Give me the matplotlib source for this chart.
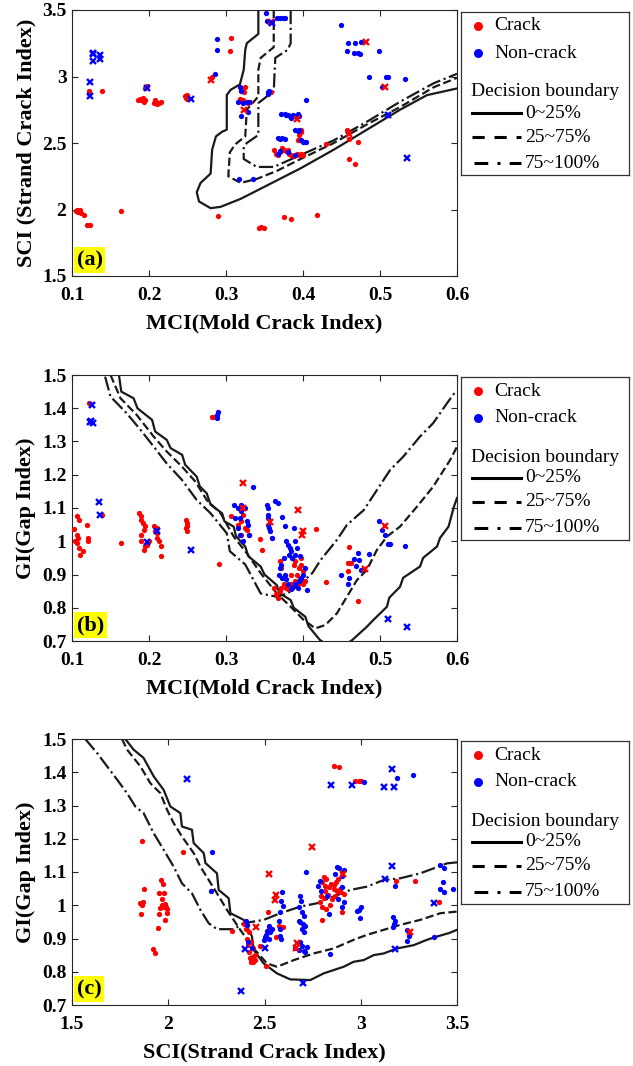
import numpy as np
import matplotlib
matplotlib.use('Agg')
import matplotlib.pyplot as plt
from matplotlib.lines import Line2D

plt.rcParams['font.family'] = ['Liberation Serif', 'DejaVu Serif']

# ---------------- panel (a): MCI vs SCI ----------------
a_crack = [(0.105,1.99),(0.108,1.98),(0.110,2.00),(0.112,1.97),(0.107,1.995),(0.109,1.99),(0.115,1.96),
           (0.120,1.88),(0.123,1.88),(0.163,1.99),(0.122,2.89),(0.122,2.87),(0.139,2.89),
           (0.186,2.82),(0.188,2.83),(0.190,2.82),(0.192,2.835),(0.193,2.81),(0.195,2.82),
           (0.195,2.91),(0.197,2.93),(0.207,2.80),(0.209,2.81),(0.211,2.79),(0.213,2.80),(0.215,2.81),(0.208,2.82),
           (0.247,2.85),(0.248,2.84),(0.250,2.86),(0.249,2.83),(0.282,3.00),(0.305,3.19),(0.307,3.29),(0.290,1.95),
           (0.320,2.91),(0.325,2.92),(0.323,2.88),(0.318,2.83),(0.322,2.82),(0.328,2.80),(0.331,2.81),
           (0.343,1.86),(0.346,1.865),(0.349,1.86),(0.375,1.94),(0.385,1.93),(0.418,1.96),(0.358,2.88),
           (0.362,2.45),(0.365,2.42),(0.368,2.41),(0.370,2.43),(0.373,2.46),(0.375,2.45),(0.378,2.44),(0.382,2.42),
           (0.385,2.41),(0.388,2.40),(0.392,2.42),(0.395,2.41),(0.398,2.42),(0.400,2.41),(0.380,2.45),
           (0.395,2.56),(0.398,2.60),(0.393,2.52),(0.397,2.58),(0.430,2.49),
           (0.457,2.60),(0.460,2.53),(0.471,2.51),(0.460,2.38),(0.468,2.34)]
a_crack_x = [(0.281,2.97),(0.323,2.75),(0.358,3.41),(0.392,2.68),(0.460,2.57),(0.482,3.26),(0.507,2.92)]
a_non = [(0.286,3.02),(0.288,3.28),(0.288,3.20),(0.318,2.92),(0.320,2.89),(0.315,2.81),(0.322,2.80),(0.327,2.81),
         (0.320,2.70),(0.328,2.73),(0.330,2.81),(0.317,2.23),(0.335,2.23),
         (0.352,3.48),(0.353,3.42),(0.366,3.44),(0.370,3.44),(0.374,3.44),(0.377,3.44),
         (0.354,2.88),(0.356,2.89),(0.355,2.87),
         (0.372,2.72),(0.376,2.72),(0.380,2.71),(0.383,2.70),(0.387,2.71),(0.390,2.70),(0.393,2.72),(0.395,2.70),
         (0.385,2.69),(0.378,2.71),(0.404,2.82),(0.390,2.60),(0.395,2.60),(0.393,2.59),
         (0.398,2.52),(0.400,2.51),(0.402,2.51),(0.404,2.51),(0.367,2.54),(0.370,2.53),(0.373,2.54),(0.376,2.53),
         (0.367,2.42),(0.370,2.44),(0.380,2.43),(0.390,2.41),
         (0.449,3.39),(0.458,3.25),(0.457,3.19),(0.468,3.25),(0.466,3.18),(0.472,3.18),(0.475,3.26),(0.474,3.17),
         (0.486,3.00),(0.499,3.19),(0.503,2.92),(0.508,3.00),(0.511,3.00),(0.532,2.98)]
a_non_x = [(0.127,3.18),(0.127,3.17),(0.127,3.12),(0.136,3.16),(0.137,3.13),(0.123,2.96),(0.123,2.85),
           (0.198,2.91),(0.254,2.83),(0.360,3.40),(0.510,2.71),(0.535,2.385)]

a_b25 = [(0.342,3.5),(0.342,3.32),(0.327,3.25),(0.325,3.2),(0.323,3.05),(0.318,2.94),(0.306,2.9),(0.301,2.86),
         (0.301,2.6),(0.295,2.585),(0.287,2.55),(0.282,2.45),(0.28,2.27),(0.267,2.2),(0.262,2.13),(0.265,2.06),
         (0.28,2.01),(0.293,2.02),(0.319,2.08),(0.353,2.18),(0.397,2.31),(0.44,2.45),(0.483,2.6),(0.526,2.75),
         (0.561,2.86),(0.6,2.91)]
a_b75 = [(0.362,3.5),(0.362,3.22),(0.345,3.14),(0.342,3.05),(0.342,2.85),(0.327,2.75),(0.325,2.55),(0.312,2.49),
         (0.305,2.43),(0.303,2.25),(0.319,2.2),(0.34,2.23),(0.366,2.29),(0.397,2.38),(0.44,2.5),(0.483,2.64),
         (0.526,2.77),(0.57,2.92),(0.6,2.99)]
a_b100 = [(0.384,3.5),(0.384,3.25),(0.38,3.2),(0.364,3.14),(0.362,2.89),(0.353,2.85),(0.342,2.8),(0.342,2.56),
          (0.327,2.5),(0.323,2.47),(0.323,2.38),(0.34,2.32),(0.362,2.32),(0.397,2.41),(0.44,2.52),(0.483,2.66),
          (0.526,2.81),(0.57,2.95),(0.6,3.02)]

# ---------------- panel (b): MCI vs GI ----------------
b_crack = [(0.103,1.037),(0.107,1.077),(0.109,1.064),(0.106,1.02),(0.104,1.0),(0.107,0.994),(0.109,0.98),(0.110,0.96),
           (0.114,0.972),(0.108,1.01),(0.119,1.05),(0.121,1.009),(0.121,1.0),(0.122,1.417),(0.125,1.413),
           (0.139,1.079),(0.163,0.994),
           (0.187,1.085),(0.189,1.075),(0.190,1.065),(0.192,1.055),(0.195,1.045),(0.193,1.035),(0.190,1.02),(0.190,1.0),
           (0.195,0.985),(0.193,0.975),(0.198,0.99),(0.200,1.0),
           (0.207,1.045),(0.210,1.04),(0.210,1.025),(0.211,1.01),(0.213,1.0),(0.215,0.985),(0.215,0.955),(0.208,1.03),
           (0.248,1.065),(0.250,1.055),(0.248,1.04),(0.250,1.03),(0.249,1.047),
           (0.291,0.932),(0.282,1.373),(0.285,1.375),
           (0.307,1.075),(0.315,1.05),(0.320,1.06),(0.322,1.08),(0.325,1.04),(0.327,1.035),(0.330,1.02),(0.320,1.02),
           (0.344,1.008),(0.347,0.975),(0.360,1.01),
           (0.365,0.84),(0.368,0.83),(0.370,0.85),(0.372,0.86),(0.375,0.87),(0.378,0.86),(0.380,0.855),(0.385,0.87),
           (0.390,0.88),(0.392,0.90),(0.395,0.92),(0.397,0.93),(0.398,0.95),(0.400,0.91),(0.402,0.88),(0.390,0.94),
           (0.388,0.93),(0.370,0.94),(0.372,0.92),(0.393,0.87),(0.396,0.89),(0.400,0.87),(0.362,0.86),(0.384,0.90),
           (0.417,1.037),(0.430,0.876),(0.460,0.982),(0.458,0.935),(0.462,0.936),(0.458,0.91),(0.471,0.819)]
b_crack_x = [(0.322,1.175),(0.322,1.10),(0.357,1.058),(0.393,1.094),(0.400,1.03),(0.399,1.02),(0.481,0.918),(0.507,1.045)]
b_non = [(0.288,1.38),(0.290,1.39),(0.288,1.37),
         (0.310,1.11),(0.315,1.10),(0.318,1.07),(0.312,1.07),(0.320,1.11),(0.320,1.09),(0.325,1.10),(0.327,1.06),
         (0.315,1.04),(0.318,1.02),(0.322,1.00),(0.328,1.05),(0.330,1.02),(0.335,1.163),
         (0.353,1.11),(0.354,1.10),(0.355,1.08),(0.355,1.07),(0.354,1.05),(0.356,1.04),(0.357,1.03),(0.360,1.01),
         (0.364,1.121),(0.368,1.114),(0.373,1.074),(0.376,1.046),
         (0.378,1.0),(0.380,0.99),(0.383,0.98),(0.385,0.97),(0.382,0.96),(0.386,0.95),(0.390,0.96),(0.392,0.98),
         (0.390,1.0),(0.388,1.04),(0.375,0.95),(0.372,0.93),(0.370,0.92),(0.376,0.90),(0.378,0.885),(0.380,0.87),
         (0.386,0.86),(0.390,0.87),(0.395,0.88),(0.398,0.89),(0.400,0.90),(0.402,0.92),(0.394,0.86),(0.384,0.855),
         (0.373,0.89),(0.369,0.90),(0.396,0.955),(0.405,0.853),
         (0.450,0.90),(0.458,0.87),(0.460,0.89),(0.466,0.947),(0.469,0.925),(0.472,0.966),(0.473,0.944),(0.475,0.914),
         (0.486,0.962),(0.499,1.061),(0.503,1.035),(0.507,1.02),(0.510,0.993),(0.513,0.993),(0.532,0.986)]
b_non_x = [(0.126,1.41),(0.123,1.36),(0.127,1.355),(0.125,1.362),(0.135,1.118),(0.137,1.08),(0.198,0.997),
           (0.210,1.03),(0.254,0.974),(0.510,0.765),(0.535,0.743)]

b_b25_left = [(0.161,1.5),(0.164,1.45),(0.18,1.43),(0.185,1.40),(0.204,1.365),(0.208,1.33),(0.223,1.305),(0.228,1.28),
              (0.243,1.26),(0.247,1.23),(0.262,1.194),(0.266,1.165),(0.275,1.144),(0.28,1.11),(0.295,1.084),
              (0.298,1.06),(0.31,1.044),(0.313,1.015),(0.325,0.984),(0.329,0.955),(0.345,0.924),(0.35,0.90),
              (0.366,0.868),(0.369,0.845),(0.384,0.823),(0.388,0.80),(0.403,0.773),(0.407,0.745),(0.422,0.703),
              (0.424,0.7)]
b_b25_right = [(0.462,0.7),(0.464,0.703),(0.483,0.743),(0.49,0.76),(0.509,0.803),(0.512,0.83),(0.526,0.863),
               (0.53,0.89),(0.552,0.924),(0.556,0.95),(0.574,0.984),(0.578,1.01),(0.589,1.044),(0.596,1.104),(0.6,1.13)]
b_b75 = [(0.15,1.5),(0.163,1.43),(0.184,1.38),(0.206,1.315),(0.223,1.27),(0.243,1.224),(0.26,1.18),(0.275,1.124),
         (0.293,1.084),(0.31,1.014),(0.327,0.964),(0.345,0.904),(0.366,0.843),(0.384,0.803),(0.401,0.763),
         (0.416,0.738),(0.429,0.748),(0.444,0.783),(0.457,0.833),(0.47,0.883),(0.483,0.914),(0.496,0.974),
         (0.509,1.014),(0.526,1.044),(0.548,1.104),(0.569,1.164),(0.591,1.244),(0.6,1.284)]
b_b100 = [(0.143,1.495),(0.15,1.435),(0.171,1.385),(0.189,1.335),(0.206,1.285),(0.223,1.234),(0.243,1.184),
          (0.262,1.124),(0.28,1.084),(0.301,1.024),(0.305,0.97),(0.325,0.93),(0.345,0.843),(0.366,0.833),
          (0.38,0.843),(0.397,0.873),(0.412,0.904),(0.423,0.944),(0.444,1.004),(0.457,1.049),(0.479,1.094),
          (0.496,1.154),(0.513,1.214),(0.53,1.254),(0.552,1.315),(0.569,1.355),(0.587,1.415),(0.598,1.45)]

# ---------------- panel (c): SCI vs GI ----------------
c_crack = [(1.864,1.194),(1.852,1.008),(1.858,1.005),(1.862,1.0),(1.869,1.011),(1.872,1.049),(1.86,0.974),
           (1.921,0.869),(1.933,0.855),(1.945,0.931),
           (1.964,1.076),(1.971,1.063),(1.950,1.036),(1.976,1.036),(1.968,1.018),(1.976,0.996),(1.959,0.991),
           (1.994,0.988),(1.994,0.976),(1.985,0.956),(1.950,0.973),(1.965,1.0),(1.982,1.005),(1.99,0.995),
           (2.077,1.161),(2.331,0.924),
           (2.40,0.95),(2.405,0.93),(2.41,0.90),(2.415,0.88),(2.42,0.86),(2.425,0.84),(2.43,0.83),(2.44,0.83),
           (2.45,0.835),(2.45,0.85),(2.44,0.87),(2.43,0.89),(2.42,0.92),(2.435,0.845),(2.41,0.94),(2.395,0.945),
           (2.478,0.876),(2.508,0.818),(2.518,0.981),(2.561,0.906),(2.598,0.935),(2.522,0.934),(2.577,0.937),
           (2.807,1.084),(2.819,1.079),(2.798,1.069),(2.812,1.059),(2.833,1.054),(2.815,1.044),(2.794,1.029),
           (2.807,1.021),(2.789,1.009),(2.798,0.994),(2.798,0.956),(2.847,1.064),(2.859,1.049),(2.876,1.044),
           (2.894,1.039),(2.911,1.034),(2.867,1.029),(2.85,1.019),(2.902,0.979),(2.88,1.079),(2.902,1.101),
           (2.86,1.06),(2.87,1.07),(2.84,1.0),(2.82,0.99),(2.83,1.03),(2.89,1.05),
           (2.859,1.42),(2.885,1.416),(2.972,1.375),(2.989,1.375),(3.003,1.375),
           (3.183,1.074),(3.284,1.072),(3.408,1.009)]
c_crack_x = [(2.456,0.936),(2.525,1.094),(2.561,1.03),(2.553,1.015),(2.669,0.887),(2.665,0.87),(2.747,1.176),
             (2.907,1.094),(3.254,0.919)]
c_non = [(2.227,1.161),(2.224,1.043),(2.404,0.954),(2.414,0.888),(2.435,0.87),(2.41,0.94),
         (2.591,1.039),(2.587,1.014),(2.594,0.999),(2.582,0.979),(2.573,0.954),(2.522,0.939),(2.513,0.924),
         (2.504,0.904),(2.496,0.894),(2.582,0.929),(2.582,0.909),(2.587,0.899),(2.53,0.919),(2.522,0.899),
         (2.51,0.91),(2.54,0.93),
         (2.686,1.029),(2.691,1.014),(2.681,0.994),(2.695,0.979),(2.703,0.969),(2.678,0.954),(2.686,0.949),
         (2.698,0.944),(2.708,0.939),(2.695,0.929),(2.703,0.921),(2.686,0.889),(2.695,0.878),(2.681,0.866),
         (2.703,0.863),(2.711,0.858),(2.66,0.87),(2.72,0.873),(2.716,1.101),(2.842,0.853),
         (2.876,1.114),(2.888,1.111),(2.911,1.107),(2.902,1.089),(2.867,1.094),(2.789,1.074),(2.78,1.059),
         (2.794,1.044),(2.902,1.054),(2.884,1.019),(2.911,1.009),(2.902,0.994),(2.833,0.974),(2.824,1.029),
         (2.999,0.994),(2.99,0.987),(2.978,0.984),(2.997,0.962),
         (3.166,0.966),(3.176,0.954),(3.171,0.944),(3.166,0.936),(3.24,0.926),(3.252,0.909),(3.24,0.892),
         (3.379,0.904),(3.015,1.372),(3.188,1.382),(3.27,1.392),(3.18,1.059),
         (3.414,1.121),(3.431,1.111),(3.426,1.071),(3.414,1.049),(3.431,1.041),(3.478,1.049)]
c_non_x = [(2.097,1.38),(2.397,0.868),(2.378,0.741),(2.5,0.87),(2.698,0.765),(2.845,1.362),(2.954,1.362),
           (3.119,1.355),(3.162,1.41),(3.175,1.355),(3.162,1.119),(3.124,1.079),(3.379,1.007),(3.18,0.868)]

c_b25 = [(1.777,1.5),(1.82,1.468),(1.872,1.443),(1.924,1.388),(1.976,1.347),(2.011,1.297),(2.063,1.277),
         (2.071,1.237),(2.123,1.227),(2.132,1.187),(2.184,1.157),(2.193,1.127),(2.253,1.096),(2.262,1.046),
         (2.314,1.021),(2.323,0.976),(2.392,0.956),(2.435,0.906),(2.444,0.865),(2.496,0.825),(2.565,0.795),
         (2.634,0.777),(2.738,0.775),(2.807,0.795),(2.859,0.805),(2.911,0.815),(2.963,0.83),(3.015,0.835),
         (3.067,0.85),(3.119,0.855),(3.188,0.87),(3.275,0.88),(3.344,0.896),(3.396,0.906),(3.457,0.916),(3.5,0.926)]
c_b75 = [(1.76,1.5),(1.786,1.468),(1.855,1.418),(1.907,1.367),(1.959,1.337),(1.994,1.287),(2.028,1.247),
         (2.071,1.207),(2.132,1.157),(2.167,1.116),(2.21,1.076),(2.253,1.036),(2.305,0.986),(2.374,0.926),
         (2.444,0.87),(2.513,0.825),(2.565,0.815),(2.652,0.835),(2.755,0.855),(2.859,0.87),(2.963,0.896),
         (3.032,0.911),(3.119,0.926),(3.205,0.941),(3.309,0.956),(3.413,0.976),(3.5,0.981)]
c_b100 = [(1.569,1.5),(1.63,1.458),(1.682,1.418),(1.734,1.378),(1.786,1.337),(1.829,1.297),(1.872,1.277),
          (1.924,1.217),(1.976,1.167),(2.028,1.116),(2.071,1.066),(2.123,1.036),(2.167,0.986),(2.21,0.946),
          (2.253,0.928),(2.34,0.928),(2.392,0.946),(2.496,0.956),(2.582,0.976),(2.686,0.996),(2.773,1.006),
          (2.859,1.026),(2.946,1.046),(3.032,1.056),(3.119,1.076),(3.205,1.081),(3.309,1.096),(3.379,1.111),
          (3.448,1.126),(3.5,1.129)]

W, H = 633, 1066
fig = plt.figure(figsize=(6.33, 10.66), dpi=100)

RED = '#ff0000'
BLUE = '#0000ff'
LINEC = '#1a1a1a'


def xy(pts):
    p = np.array(pts)
    return p[:, 0], p[:, 1]


def draw_panel(top, crack, crack_x, non, non_x, lines, xlim, ylim, xticks, yticks, xlab, ylab, tag):
    ax = fig.add_axes([72 / W, 1 - (top + 266) / H, 385 / W, 266 / H])
    for pts, ls in lines:
        x, y = xy(pts)
        ax.plot(x, y, color=LINEC, lw=1.6, ls=ls, zorder=2)
    x, y = xy(crack)
    ax.plot(x, y, 'o', color=RED, ms=3.8, mec='none', zorder=3)
    x, y = xy(non)
    ax.plot(x, y, 'o', color=BLUE, ms=3.8, mec='none', zorder=3)
    x, y = xy(crack_x)
    ax.plot(x, y, 'x', color=RED, ms=3.8, mew=1.7, zorder=3)
    x, y = xy(non_x)
    ax.plot(x, y, 'x', color=BLUE, ms=3.8, mew=1.7, zorder=3)
    ax.set_xlim(xlim)
    ax.set_ylim(ylim)
    ax.set_xticks(xticks)
    ax.set_yticks(yticks)
    ax.set_xticklabels([('%g' % t) for t in xticks], fontsize=14, fontweight='bold')
    ax.set_yticklabels([('%g' % t) for t in yticks], fontsize=14, fontweight='bold')
    ax.tick_params(direction='in', length=4, width=0.8, top=True, right=True, color='#262626')
    ax.tick_params(axis='x', pad=8)
    ax.tick_params(axis='y', pad=4)
    for s in ax.spines.values():
        s.set_color('#262626')
        s.set_linewidth(0.8)
    ax.set_xlabel(xlab, fontsize=16, fontweight='bold', labelpad=7)
    ax.set_ylabel(ylab, fontsize=16, fontweight='bold', labelpad=4)
    ax.text(0.012, 0.022, tag, transform=ax.transAxes, fontsize=16, fontweight='bold',
            va='bottom', ha='left', bbox=dict(boxstyle='square,pad=0.12', fc='#ffff00', ec='none'), zorder=5)

    # legend box built by hand
    lg = fig.add_axes([461 / W, 1 - (top + 165) / H, 168 / W, 163 / H])
    lg.set_xlim(0, 168)
    lg.set_ylim(163, 0)
    lg.set_xticks([])
    lg.set_yticks([])
    for s in lg.spines.values():
        s.set_color('#333333')
        s.set_linewidth(0.9)
    lg.plot([17], [14], 'o', color=RED, ms=6.5, mec='none')
    lg.plot([17], [41], 'o', color=BLUE, ms=6.5, mec='none')
    lg.text(33, 14, 'Crack', fontsize=14, va='center')
    lg.text(33, 41, 'Non-crack', fontsize=14, va='center')
    lg.text(10, 80, 'Decision boundary', fontsize=14, va='center')
    lg.add_line(Line2D([11, 60], [101, 101], color='black', lw=2.2, ls='-'))
    lg.add_line(Line2D([11, 60], [125, 125], color='black', lw=2.2, dashes=(4, 3.2)))
    lg.add_line(Line2D([13, 60], [151, 151], color='black', lw=2.2, dashes=(4.5, 3, 1, 3)))
    for yy, lab in [(101, '0~25%'), (125, '25~75%'), (151, '75~100%')]:
        lg.text(64, yy, lab, fontsize=14, va='center')
    return ax


draw_panel(10, a_crack, a_crack_x, a_non, a_non_x,
           [(a_b25, '-'), (a_b75, '--'), (a_b100, '-.')],
           (0.1, 0.6), (1.5, 3.5), [0.1, 0.2, 0.3, 0.4, 0.5, 0.6], [1.5, 2, 2.5, 3, 3.5],
           'MCI(Mold Crack Index)', 'SCI (Strand Crack Index)', '(a)')
draw_panel(375, b_crack, b_crack_x, b_non, b_non_x,
           [(b_b25_left, '-'), (b_b25_right, '-'), (b_b75, '--'), (b_b100, '-.')],
           (0.1, 0.6), (0.7, 1.5), [0.1, 0.2, 0.3, 0.4, 0.5, 0.6],
           [0.7, 0.8, 0.9, 1, 1.1, 1.2, 1.3, 1.4, 1.5],
           'MCI(Mold Crack Index)', 'GI(Gap Index)', '(b)')
draw_panel(739, c_crack, c_crack_x, c_non, c_non_x,
           [(c_b25, '-'), (c_b75, '--'), (c_b100, '-.')],
           (1.5, 3.5), (0.7, 1.5), [1.5, 2, 2.5, 3, 3.5],
           [0.7, 0.8, 0.9, 1, 1.1, 1.2, 1.3, 1.4, 1.5],
           'SCI(Strand Crack Index)', 'GI(Gap Index)', '(c)')

fig.savefig('out.png', dpi=100)
